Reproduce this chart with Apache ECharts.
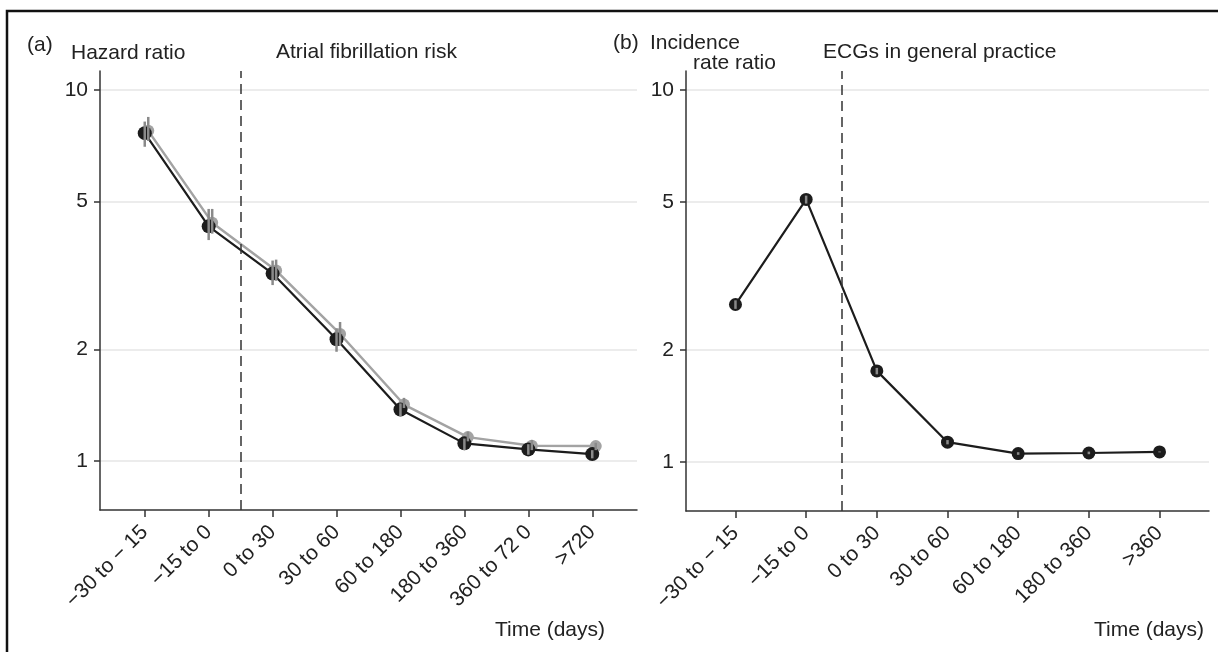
<!DOCTYPE html>
<html>
<head>
<meta charset="utf-8">
<script src="https://cdn.jsdelivr.net/npm/echarts@6/dist/echarts.min.js"></script>
<style>html,body{margin:0;padding:0;background:#fff}#c{width:1218px;height:652px}</style>
</head>
<body>
<div id="c"></div>
<script>
// ---- data ----
const leftCats = ['\u221230 to \u2212 15', '\u221215 to 0', '0 to 30', '30 to 60', '60 to 180', '180 to 360', '360 to 72 0', '>720'];
const hrBlack   = [7.65, 4.29, 3.20, 2.13, 1.377, 1.116, 1.075, 1.044];
const hrBlackLo = [7.03, 3.94, 2.98, 1.97, 1.32, 1.07, 1.04, 1.017];
const hrBlackHi = [8.22, 4.78, 3.47, 2.28, 1.43, 1.15, 1.11, 1.07];
const hrGray    = [7.76, 4.39, 3.26, 2.20, 1.42, 1.16, 1.10, 1.097];
const hrGrayLo  = [7.29, 4.10, 3.06, 2.05, 1.39, 1.13, 1.07, 1.07];
const hrGrayHi  = [8.46, 4.78, 3.49, 2.37, 1.48, 1.20, 1.14, 1.12];

const rightCats = ['\u221230 to \u2212 15', '\u221215 to 0', '0 to 30', '30 to 60', '60 to 180', '180 to 360', '>360'];
const irr   = [2.65, 5.08, 1.757, 1.13, 1.053, 1.057, 1.064];
const irrLo = [2.58, 4.95, 1.72, 1.115, 1.045, 1.049, 1.061];
const irrHi = [2.72, 5.20, 1.79, 1.145, 1.062, 1.066, 1.067];

const yTicks = [1, 2, 5, 10];
const yMin = 0.738, yMax = 11.25;   // axis range (ratio scale)
const dividerPos = 1.5;             // between -15 to 0 and 0 to 30
const dodge = 0.055;                // horizontal dodge of grey series

// ---- helpers ----
const L = Math.log10;
const FONT = '"Liberation Sans", Arial, Helvetica, sans-serif';
const TXT = '#222';

function xAxisFor(gridIndex, cats) {
  const idx = cats.map((_, i) => i);
  return {
    type: 'value', gridIndex, min: -0.7, max: cats.length - 1 + 0.7,
    axisLine: { show: true, onZero: false, lineStyle: { color: '#333', width: 1.5 } },
    axisTick: { show: true, length: 7, lineStyle: { color: '#333', width: 1.5 }, customValues: idx },
    axisLabel: {
      customValues: idx, rotate: 45, margin: 19, fontSize: 21, fontFamily: FONT, color: TXT,
      formatter: v => cats[Math.round(v)]
    },
    splitLine: { show: false }
  };
}
function yAxisFor(gridIndex) {
  const tv = yTicks.map(L);
  return {
    type: 'value', gridIndex, min: L(yMin), max: L(yMax),
    axisLine: { show: true, onZero: false, lineStyle: { color: '#333', width: 1.5 } },
    axisTick: { show: true, length: 6, lineStyle: { color: '#333', width: 1.5 }, customValues: tv },
    axisLabel: {
      customValues: tv, margin: 12, fontSize: 21, fontFamily: FONT, color: TXT,
      formatter: v => String(Math.round(Math.pow(10, v)))
    },
    splitLine: { show: true, lineStyle: { color: '#e6e6e6', width: 1.5 } }
  };
}
function errBars(name, xi, yi, lo, hi, off) {
  return {
    type: 'custom', name, xAxisIndex: xi, yAxisIndex: yi, z: 5, silent: true,
    data: lo.map((v, i) => [i + off, L(v), L(hi[i])]),
    encode: { x: 0, y: [1, 2] },
    renderItem: (params, api) => {
      const a = api.coord([api.value(0), api.value(1)]);
      const b = api.coord([api.value(0), api.value(2)]);
      return { type: 'line', shape: { x1: a[0], y1: a[1], x2: b[0], y2: b[1] },
               style: { stroke: '#8a8a8a', lineWidth: 2.5 } };
    }
  };
}
function divider() {
  return {
    symbol: 'none', silent: true, label: { show: false }, animation: false,
    lineStyle: { type: [10, 6], color: '#333', width: 1.5 },
    data: [{ xAxis: dividerPos }]
  };
}

const option = {
  animation: false,
  backgroundColor: '#fff',
  grid: [
    { left: 100, top: 71, width: 537, height: 439 },
    { left: 686, top: 71, width: 523, height: 440 }
  ],
  xAxis: [xAxisFor(0, leftCats), xAxisFor(1, rightCats)],
  yAxis: [yAxisFor(0), yAxisFor(1)],
  series: [
    {
      type: 'line', name: 'grey', xAxisIndex: 0, yAxisIndex: 0, z: 2,
      data: hrGray.map((v, i) => [i + dodge, L(v)]),
      symbol: 'circle', symbolSize: 12,
      itemStyle: { color: '#a3a3a3' }, lineStyle: { color: '#a3a3a3', width: 2.5 }
    },
    {
      type: 'line', name: 'black', xAxisIndex: 0, yAxisIndex: 0, z: 3,
      data: hrBlack.map((v, i) => [i, L(v)]),
      symbol: 'circle', symbolSize: 14,
      itemStyle: { color: '#1c1c1c' }, lineStyle: { color: '#1c1c1c', width: 2.2 },
      markLine: divider()
    },
    errBars('blackCI', 0, 0, hrBlackLo, hrBlackHi, 0),
    errBars('greyCI', 0, 0, hrGrayLo, hrGrayHi, dodge),
    {
      type: 'line', name: 'irr', xAxisIndex: 1, yAxisIndex: 1, z: 3,
      data: irr.map((v, i) => [i, L(v)]),
      symbol: 'circle', symbolSize: 13,
      itemStyle: { color: '#1c1c1c' }, lineStyle: { color: '#1c1c1c', width: 2.2 },
      markLine: divider()
    },
    errBars('irrCI', 1, 1, irrLo, irrHi, 0)
  ],
  graphic: [
    { type: 'rect', z: 100, silent: true, shape: { x: 7, y: 11, width: 1400, height: 900 },
      style: { fill: 'none', stroke: '#111', lineWidth: 2.5 } },
    ...[
      ['(a)', 27, 45, 'left'], ['Hazard ratio', 71, 53, 'left'], ['Atrial fibrillation risk', 276, 52, 'left'],
      ['(b)', 613, 43, 'left'], ['Incidence', 650, 43, 'left'], ['rate ratio', 693, 63, 'left'],
      ['ECGs in general practice', 823, 52, 'left'],
      ['Time (days)', 605, 630, 'right'], ['Time (days)', 1204, 630, 'right']
    ].map(t => ({
      type: 'text', x: t[1], y: t[2], silent: true,
      style: { text: t[0], fontSize: 21, fontFamily: FONT, fill: TXT, align: t[3], verticalAlign: 'middle',
               textAlign: t[3], textVerticalAlign: 'middle' }
    }))
  ]
};

const chart = echarts.init(document.getElementById('c'), null, { renderer: 'canvas' });
chart.setOption(option);
</script>
</body>
</html>
